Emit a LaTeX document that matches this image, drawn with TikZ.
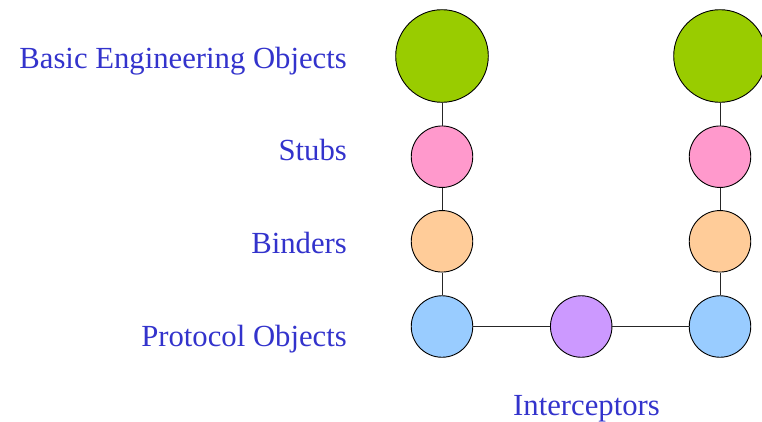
\documentclass[tikz,border=0pt]{standalone}
\usepackage{fontspec}
\setmainfont{Liberation Serif}
\definecolor{cgreen}{HTML}{99CC00}
\definecolor{cpink}{HTML}{FF99CC}
\definecolor{corange}{HTML}{FFCC99}
\definecolor{cblue}{HTML}{99CCFF}
\definecolor{cpurple}{HTML}{CC99FF}
\definecolor{ctext}{HTML}{3333CC}
\begin{document}
\begin{tikzpicture}[x=1pt,y=-1pt,
  ball/.style={circle,draw=black,line width=0.9pt,inner sep=0pt,minimum size=#1},
  lbl/.style={text=ctext,font=\fontsize{30.7}{36}\selectfont,inner sep=0pt},
  link/.style={draw=black!85,line width=0.9pt}]
\useasboundingbox (0,0) rectangle (762,421);
\clip (0,0) rectangle (762,421);
% left column
\node[ball=92.6pt,fill=cgreen] (g1) at (442,56) {};
\node[ball=61.5pt,fill=cpink] (p1) at (442,156.7) {};
\node[ball=61.5pt,fill=corange] (o1) at (442,241.3) {};
\node[ball=61.5pt,fill=cblue] (b1) at (442,326.5) {};
% right column
\node[ball=92.6pt,fill=cgreen] (g2) at (720,56) {};
\node[ball=61.5pt,fill=cpink] (p2) at (720,156.7) {};
\node[ball=61.5pt,fill=corange] (o2) at (720,241.3) {};
\node[ball=61.5pt,fill=cblue] (b2) at (720,326.5) {};
% interceptor
\node[ball=61.5pt,fill=cpurple] (ic) at (581.2,326.5) {};
% connectors
\draw[link] (g1) -- (p1);
\draw[link] (p1) -- (o1);
\draw[link] (o1) -- (b1);
\draw[link] (g2) -- (p2);
\draw[link] (p2) -- (o2);
\draw[link] (o2) -- (b2);
\draw[link] (b1) -- (ic);
\draw[link] (ic) -- (b2);
% labels
\node[lbl,anchor=base east] (l1) at (347,68) {Basic Engineering Objects};
\node[lbl,anchor=base east] (l2) at (347,160) {Stubs};
\node[lbl,anchor=base east] (l3) at (347,253) {Binders};
\node[lbl,anchor=base east] (l4) at (347,346) {Protocol Objects};
\node[lbl,anchor=base] (l5) at (586.5,415) {Interceptors};
\end{tikzpicture}
\end{document}
